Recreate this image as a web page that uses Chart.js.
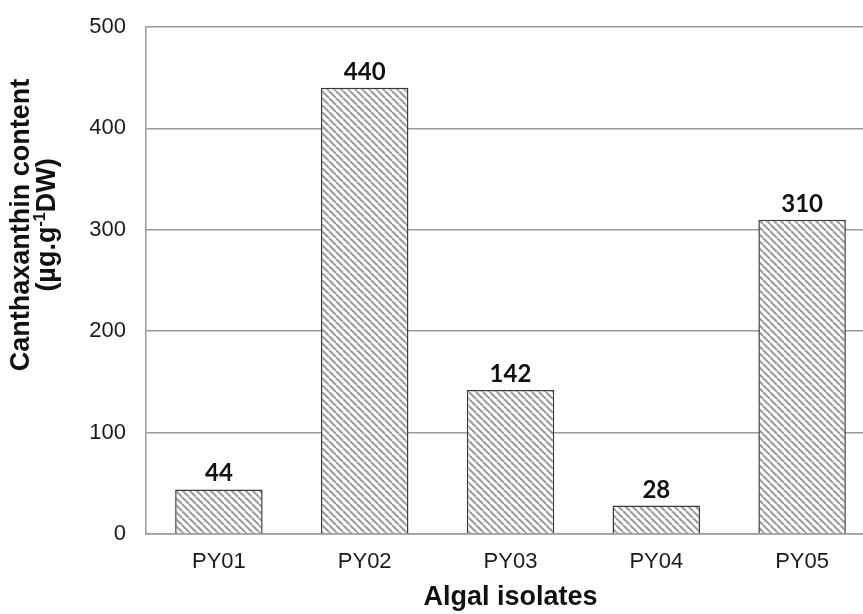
<!DOCTYPE html>
<html>
<head>
<meta charset="utf-8">
<script src="https://cdn.jsdelivr.net/npm/chart.js@4.4.1/dist/chart.umd.min.js"></script>
<style>
  html, body { margin: 0; padding: 0; background: #fff; overflow: hidden; }
  #wrap { width: 863px; height: 614px; overflow: hidden; }
</style>
</head>
<body>
<div id="wrap"><canvas id="chart" width="880" height="614"></canvas></div>
<script>
// data
const isolates = ['PY01', 'PY02', 'PY03', 'PY04', 'PY05'];
const canthaxanthin = [44, 440, 142, 28, 310];
const yTicks = [0, 100, 200, 300, 400, 500];

// hatched fill like the original (\\\\ stripes)
function makeHatch(g0) {
  const s = 7;
  const c = document.createElement('canvas');
  c.width = s; c.height = s;
  const g = c.getContext('2d');
  g.fillStyle = '#fff';
  g.fillRect(0, 0, s, s);
  g.strokeStyle = '#9a9a9a';
  g.lineWidth = 2;
  for (const off of [-s, 0, s]) {
    g.beginPath();
    g.moveTo(off, 0);
    g.lineTo(off + s, s);
    g.stroke();
  }
  return g0.createPattern(c, 'repeat');
}

const ctx = document.getElementById('chart').getContext('2d');
const hatch = makeHatch(ctx);

const tickFont = { family: '"Liberation Sans", Arial, sans-serif', size: 22 };

// value labels + axis titles
const extras = {
  id: 'extras',
  afterDatasetsDraw(chart) {
    const c = chart.ctx;
    const meta = chart.getDatasetMeta(0);
    c.save();
    c.fillStyle = '#111';
    c.font = 'bold 24px Lato, "Liberation Sans", sans-serif';
    c.textAlign = 'center';
    c.textBaseline = 'alphabetic';
    meta.data.forEach((bar, i) => {
      c.fillText(String(canthaxanthin[i]), bar.x, bar.y - 8);
    });
    c.restore();
  },
  afterDraw(chart) {
    const c = chart.ctx;
    const area = chart.chartArea;
    const big = 'bold 27px "Liberation Sans", Arial, sans-serif';
    const small = 'bold 16px "Liberation Sans", Arial, sans-serif';
    c.save();
    c.fillStyle = '#111';
    c.font = big;
    c.textAlign = 'center';
    c.textBaseline = 'alphabetic';
    c.fillText('Algal isolates', (area.left + area.right) / 2, 605);

    // y title, two lines rotated
    c.translate(0, 225);
    c.rotate(-Math.PI / 2);
    c.fillText('Canthaxanthin content', 0, 29);
    // second line with superscript -1
    const parts = [['(µg.g', big, 0], ['-1', small, -10], ['DW)', big, 0]];
    let total = 0;
    parts.forEach(p => { c.font = p[1]; total += c.measureText(p[0]).width; });
    let x = -total / 2;
    c.textAlign = 'left';
    parts.forEach(p => {
      c.font = p[1];
      c.fillText(p[0], x, 55 + p[2]);
      x += c.measureText(p[0]).width;
    });
    c.restore();
  }
};

new Chart(ctx, {
  type: 'bar',
  data: {
    labels: isolates,
    datasets: [{
      data: canthaxanthin,
      backgroundColor: hatch,
      borderColor: '#3a3a3a',
      borderWidth: 1.5,
      borderSkipped: 'start',
      barPercentage: 0.6,
      categoryPercentage: 1.0
    }]
  },
  options: {
    responsive: false,
    animation: false,
    layout: { padding: { top: 27, right: 5, left: 0, bottom: 0 } },
    plugins: {
      legend: { display: false },
      tooltip: { enabled: false }
    },
    scales: {
      x: {
        grid: { display: false, drawTicks: false },
        border: { display: true, color: '#9a9a9a', width: 1.5 },
        ticks: { color: '#1a1a1a', font: tickFont, padding: 15 },
        afterFit(scale) { scale.height = 80; }
      },
      y: {
        min: 0,
        max: 500,
        afterBuildTicks(scale) { scale.ticks = yTicks.map(v => ({ value: v })); },
        grid: { color: '#9a9a9a', lineWidth: 1.5, drawTicks: false },
        border: { display: true, color: '#9a9a9a', width: 1.5 },
        ticks: { color: '#1a1a1a', font: tickFont, padding: 20 },
        afterFit(scale) {
          scale.width = 146;
          scale.paddingTop = 0;
          scale.paddingBottom = 0;
        }
      }
    }
  },
  plugins: [extras]
});
</script>
</body>
</html>
